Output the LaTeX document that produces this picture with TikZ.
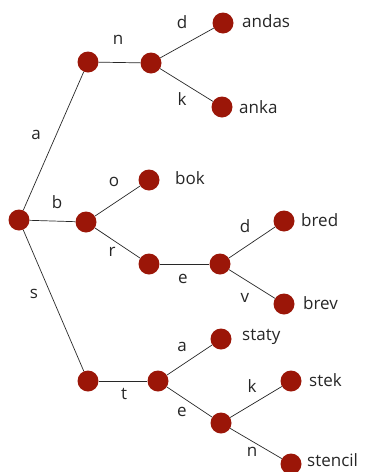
\documentclass[tikz,border=0pt]{standalone}
\usepackage{fontspec}
\setmainfont{Open Sans}
\definecolor{nodered}{RGB}{155,22,8}
\definecolor{edgegray}{RGB}{40,40,40}
\begin{document}
\begin{tikzpicture}[x=1pt,y=-1pt,
  dot/.style={circle,fill=nodered,inner sep=0pt,minimum size=21pt},
  edge/.style={draw=edgegray,line width=0.7pt},
  lbl/.style={font=\fontsize{17}{19}\selectfont,text=black!85,inner sep=0pt},
  word/.style={font=\fontsize{17}{19}\selectfont,text=black!85,anchor=west,inner sep=0pt}]
\useasboundingbox (0,0) rectangle (377,472);
% nodes
\node[dot] (r) at (19,220) {};
\node[dot] (a) at (88,62) {};
\node[dot] (an) at (151,63) {};
\node[dot] (and) at (223,23) {};
\node[dot] (ank) at (222,107) {};
\node[dot] (b) at (86,222) {};
\node[dot] (bo) at (149,180) {};
\node[dot] (br) at (149,264) {};
\node[dot] (bre) at (220,264) {};
\node[dot] (bred) at (284,221) {};
\node[dot] (brev) at (284,304) {};
\node[dot] (s) at (88,381) {};
\node[dot] (st) at (158,381) {};
\node[dot] (sta) at (221,339) {};
\node[dot] (ste) at (221,423) {};
\node[dot] (stek) at (291,381) {};
\node[dot] (sten) at (291,464) {};
% edges
\draw[edge] (r) -- (a);
\draw[edge] (a) -- (an);
\draw[edge] (an) -- (and);
\draw[edge] (an) -- (ank);
\draw[edge] (r) -- (b);
\draw[edge] (b) -- (bo);
\draw[edge] (b) -- (br);
\draw[edge] (br) -- (bre);
\draw[edge] (bre) -- (bred);
\draw[edge] (bre) -- (brev);
\draw[edge] (r) -- (s);
\draw[edge] (s) -- (st);
\draw[edge] (st) -- (sta);
\draw[edge] (st) -- (ste);
\draw[edge] (ste) -- (stek);
\draw[edge] (ste) -- (sten);
% edge labels
\node[lbl] (la) at (36,135) {a};
\node[lbl] (ln) at (118,40) {n};
\node[lbl] (ld1) at (182,22) {d};
\node[lbl] (lk1) at (182,99) {k};
\node[lbl] (lb) at (57,202) {b};
\node[lbl] (lo) at (114,182) {o};
\node[lbl] (lr) at (112,252) {r};
\node[lbl] (le1) at (183,279) {e};
\node[lbl] (ld2) at (245,226) {d};
\node[lbl] (lv) at (245,298) {v};
\node[lbl] (ls) at (34,294) {s};
\node[lbl] (lt) at (124,394) {t};
\node[lbl] (la2) at (182,347) {a};
\node[lbl] (le2) at (182,412) {e};
\node[lbl] (lk2) at (252,386) {k};
\node[lbl] (ln2) at (252,452) {n};
% words
\node[word] (wandas) at (242,21) {andas};
\node[word] (wanka) at (239,107) {anka};
\node[word] (wbok) at (175,178) {bok};
\node[word] (wbred) at (301,220) {bred};
\node[word] (wbrev) at (303,303) {brev};
\node[word] (wstaty) at (242,337) {staty};
\node[word] (wstek) at (309,380) {stek};
\node[word] (wstencil) at (307,460) {stencil};
\end{tikzpicture}
\end{document}
